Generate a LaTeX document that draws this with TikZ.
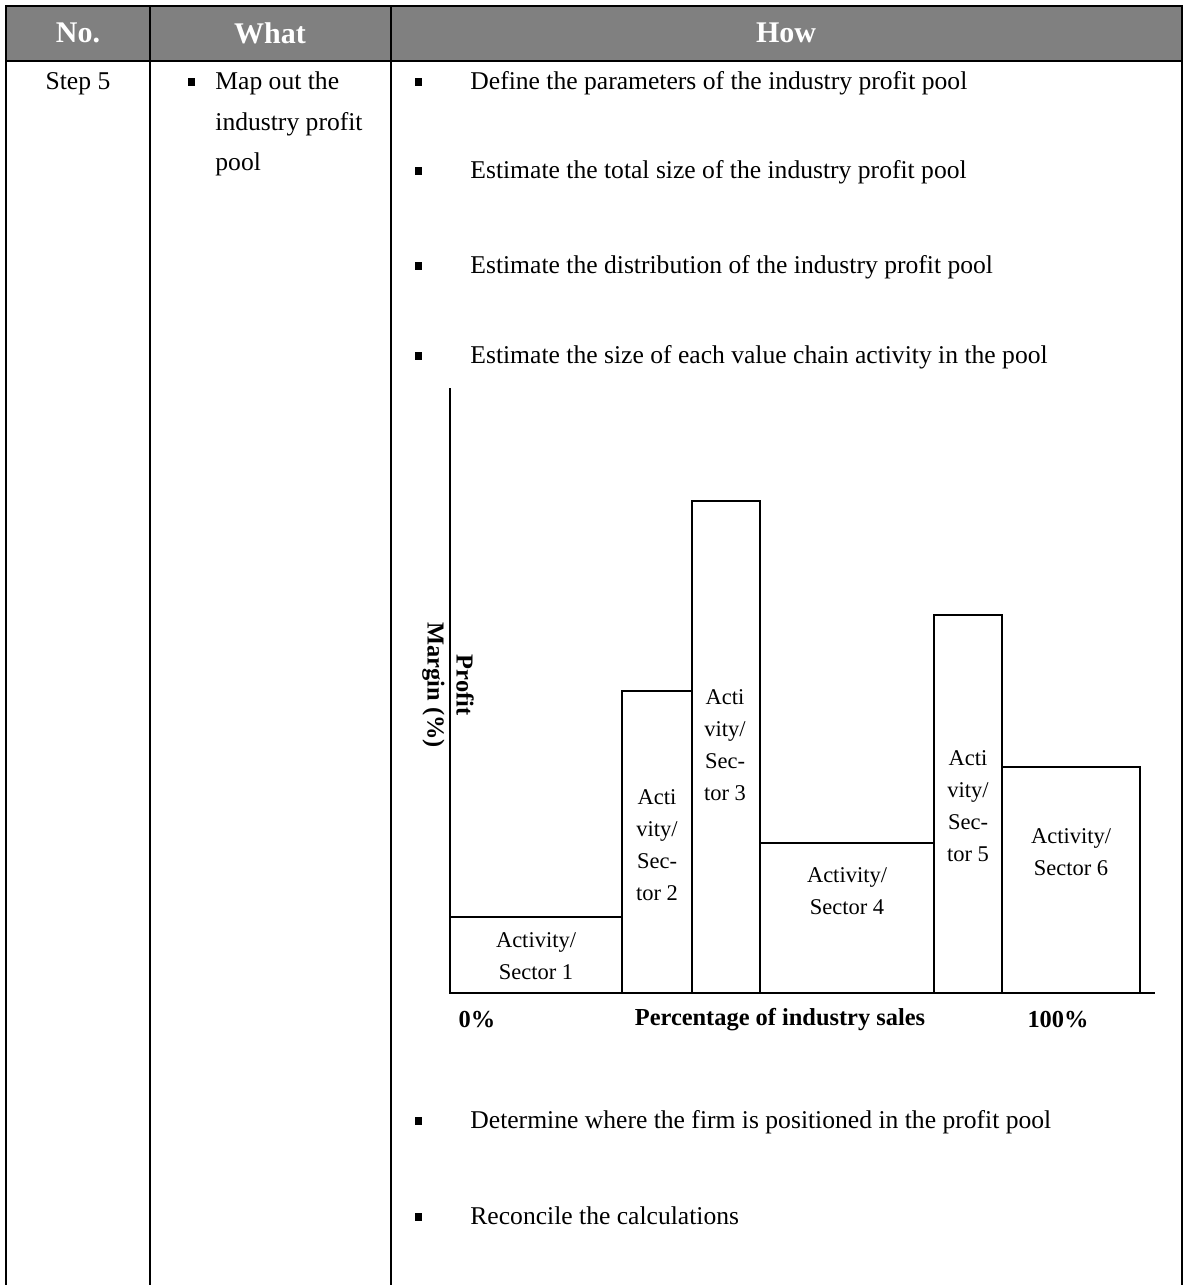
\documentclass[tikz,border=0pt]{standalone}
\usepackage{fontspec}
\setmainfont{Liberation Serif}
\definecolor{hdrgray}{HTML}{808080}
\begin{document}
\begin{tikzpicture}[x=0.5pt,y=-0.5pt,
  rule/.style={line width=1.1pt},
  hdr/.style={text=white,font=\fontsize{15}{17}\selectfont\bfseries},
  body/.style={font=\fontsize{12.8}{16}\selectfont,anchor=base west,inner sep=0pt},
  bul/.style={fill=black,minimum width=3.5pt,minimum height=4pt,inner sep=0pt},
  barbox/.style={draw,line width=1pt},
  barlbl/.style={font=\fontsize{11.25}{16}\selectfont,align=center},
  axlbl/.style={font=\fontsize{12.2}{14.5}\selectfont\bfseries}]
\useasboundingbox (0,0) rectangle (1183,1285);

% header band
\fill[hdrgray] (6,6) rectangle (1182,61);
\draw[rule] (6,1285) -- (6,6) -- (1182,6) -- (1182,1285);
\draw[rule] (6,61) -- (1182,61);
\draw[rule] (150,6) -- (150,1285);
\draw[rule] (391,6) -- (391,1285);

\node[hdr] (hno)   at (78,33)  {No.};
\node[hdr] (hwhat) at (270,33) {What};
\node[hdr] (hhow)  at (786,33) {How};

% first column
\node[font=\fontsize{12.8}{16}\selectfont,anchor=base,inner sep=0pt] (step) at (78,89) {Step 5};

% second column
\node[bul] (wb) at (191,82) {};
\node[body] (w1) at (215,89)  {Map out the};
\node[body] (w2) at (215,130) {industry profit};
\node[body] (w3) at (215,170) {pool};

% third column
\foreach \yy/\nm/\txt in {
  89/h1/{Define the parameters of the industry profit pool},
  178/h2/{Estimate the total size of the industry profit pool},
  273/h3/{Estimate the distribution of the industry profit pool},
  363/h4/{Estimate the size of each value chain activity in the pool},
  1128/h5/{Determine where the firm is positioned in the profit pool},
  1224/h6/{Reconcile the calculations}} {
  \node[bul] (\nm b) at (418,\yy-7) {};
  \node[body] (\nm) at (470,\yy) {\txt};
}

% profit pool chart
\coordinate (org) at (450,993);
\coordinate (ytop) at (450,388);
\coordinate (xend) at (1155,993);
\draw[line width=1pt] (ytop) -- (org) -- (xend);

\draw[barbox] (450,993) rectangle (622,917);
\draw[barbox] (622,993) rectangle (692,691);
\draw[barbox] (692,993) rectangle (760,501);
\draw[barbox] (760,993) rectangle (934,843);
\draw[barbox] (934,993) rectangle (1002,615);
\draw[barbox] (1002,993) rectangle (1140,767);

\node[barlbl] (s1) at (536,956) {Activity/\\Sector 1};
\node[barlbl] (s2) at (657,845) {Acti\\vity/\\Sec-\\tor 2};
\node[barlbl] (s3) at (725,745) {Acti\\vity/\\Sec-\\tor 3};
\node[barlbl] (s4) at (847,891) {Activity/\\Sector 4};
\node[barlbl] (s5) at (968,806) {Acti\\vity/\\Sec-\\tor 5};
\node[barlbl] (s6) at (1071,852) {Activity/\\Sector 6};

\node[axlbl,rotate=-90,align=center] (ylab) at (448,685) {Profit\\Margin (\%)};
\node[axlbl] (x0)   at (477,1020) {0\%};
\node[axlbl] (xlab) at (780,1020) {Percentage of industry sales};
\node[axlbl] (x100) at (1058,1020) {100\%};
\end{tikzpicture}
\end{document}
